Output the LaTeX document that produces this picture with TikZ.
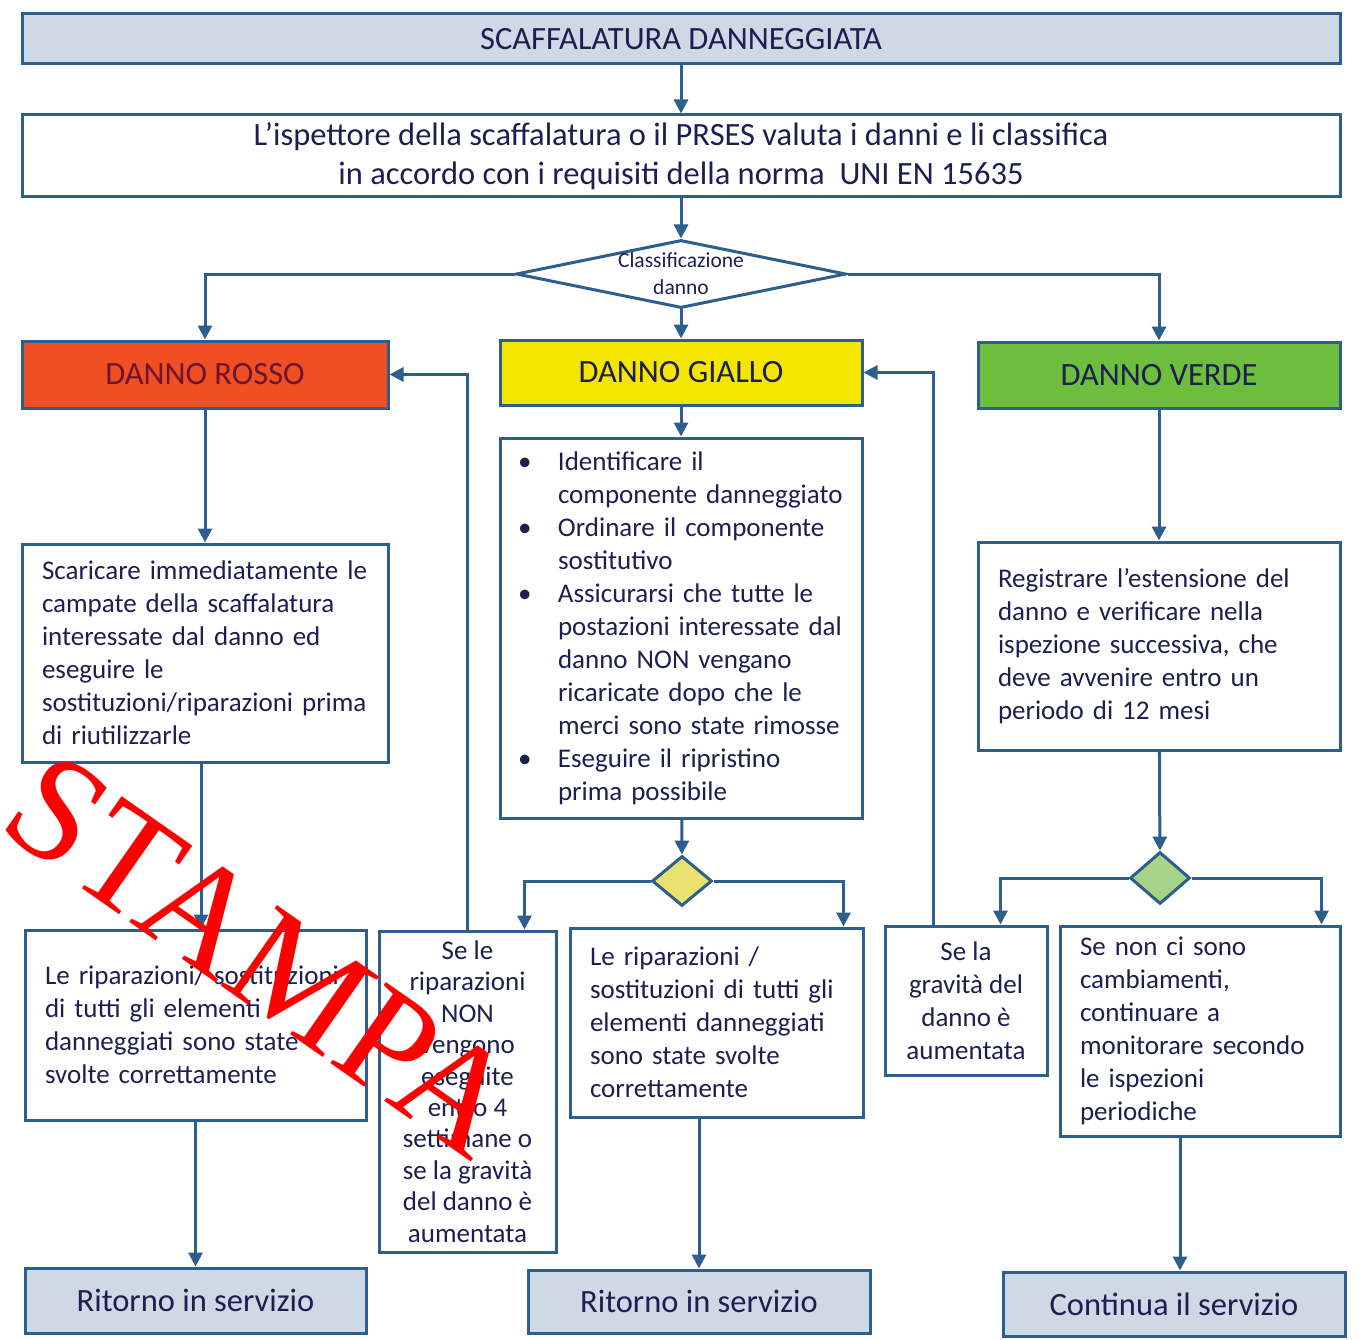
\documentclass[tikz,border=0pt]{standalone}
\usepackage{fontspec}
\setmainfont{Carlito}
\newfontfamily\timbro{Liberation Serif}
\usetikzlibrary{arrows.meta,shapes.geometric}
\definecolor{linea}{RGB}{44,94,142}
\definecolor{inchiostro}{RGB}{30,30,80}
\definecolor{grigio}{RGB}{205,218,230}
\definecolor{rosso}{RGB}{240,78,35}
\definecolor{giallo}{RGB}{245,230,0}
\definecolor{verde}{RGB}{108,190,60}
\definecolor{gialletto}{RGB}{234,226,110}
\definecolor{verdino}{RGB}{165,212,135}
\definecolor{bordeaux}{RGB}{110,20,45}
\newcommand{\punto}[1]{\noindent\hangindent=33pt\hangafter=1\rightskip=-30pt plus 1fil\hyphenpenalty=10000\makebox[33pt][l]{\hspace{-7pt}•}#1\par}
\tikzset{
	box/.style 2 args={draw=linea, line width=3pt, fill=white, text=inchiostro, inner sep=0pt,
		minimum width=#1, minimum height=#2, align=center, font=\fontsize{27}{33}\selectfont},
	sx/.style={inner xsep=20pt, text width=#1-40pt, align=left},
	titoletto/.style={font=\fontsize{32.5}{39}\selectfont},
	rombo/.style 2 args={diamond, draw=linea, line width=3pt, inner sep=0pt, minimum width=#1, minimum height=#2},
	freccia/.style={draw=linea, line width=3pt, -{Triangle[length=14pt,width=14pt]}},
}
\begin{document}
\begin{tikzpicture}[x=1pt,y=-1pt]
\useasboundingbox (0,0) rectangle (1359,1340);
\node[box={1318}{50}, fill=grigio, titoletto] (titolo) at (681,39) {SCAFFALATURA DANNEGGIATA};
\node[box={1318}{82}, titoletto] (ispettore) at (681,156)
	{L’ispettore della scaffalatura o il PRSES valuta i danni e li classifica\\in accordo con i requisiti della norma\ \ UNI EN 15635};
\node[rombo={330}{68}, fill=white] (classe) at (681,274) {};
\node[text=inchiostro, align=center, font=\fontsize{21.5}{27}\selectfont] (classe-t) at (classe) {Classificazione\\danno};

\node[box={366}{67}, fill=rosso, text=bordeaux, titoletto] (rosso) at (205,374.5) {DANNO ROSSO};
\node[box={362}{65}, fill=giallo, titoletto] (giallo) at (681,372.5) {DANNO GIALLO};
\node[box={362}{66}, fill=verde, titoletto] (verde) at (1159,375) {DANNO VERDE};

\node[box={366}{218}, sx=366pt] (scarica) at (205,653) {Scaricare immediatamente le\\campate della scaffalatura\\interessate dal danno ed\\eseguire le\\sostituzioni/riparazioni prima\\di riutilizzarle};
\node[box={362}{380}, inner xsep=25pt, text width=312pt, align=left] (azioni) at (681,628) {%
	\punto{Identificare il\newline componente danneggiato}
	\punto{Ordinare il componente\newline sostitutivo}
	\punto{Assicurarsi che tutte le\newline postazioni interessate dal\newline danno NON vengano\newline ricaricate dopo che le\newline merci sono state rimosse}
	\punto{Eseguire il ripristino\newline prima possibile}};
\node[box={362}{208}, sx=362pt] (registra) at (1159,646) {Registrare l’estensione del\\danno e verificare nella\\ispezione successiva, che\\deve avvenire entro un\\periodo di 12 mesi};

\node[rombo={60}{50}, fill=gialletto] (sceltaG) at (682,881) {};
\node[rombo={60}{52}, fill=verdino] (sceltaV) at (1160,878) {};

\node[box={341}{190}, sx=341pt] (fatteR) at (195.5,1025) {Le riparazioni/ sostituzioni\\di tutti gli elementi\\danneggiati sono state\\svolte correttamente};
\node[box={177}{321}, font=\fontsize{27}{31.4}\selectfont] (nonfatte) at (467.5,1091.5) {Se le\\riparazioni\\NON\\vengono\\eseguite\\entro 4\\settimane o\\se la gravità\\del danno è\\aumentata};
\node[box={293}{189}, sx=293pt] (fatteG) at (716.5,1022.5) {Le riparazioni /\\sostituzioni di tutti gli\\elementi danneggiati\\sono state svolte\\correttamente};
\node[box={162}{149}] (gravita) at (966,1000.5) {Se la\\gravità del\\danno è\\aumentata};
\node[box={280}{210}, sx=280pt] (monitora) at (1200,1031) {Se non ci sono\\cambiamenti,\\continuare a\\monitorare secondo\\le ispezioni\\periodiche};

\node[box={341}{65}, fill=grigio, titoletto] (ritornoR) at (195.5,1300.5) {Ritorno in servizio};
\node[box={342}{63}, fill=grigio, titoletto] (ritornoG) at (699,1301.5) {Ritorno in servizio};
\node[box={342}{64}, fill=grigio, titoletto] (continua) at (1174,1304) {Continua il servizio};

\draw[freccia] (titolo) -- (ispettore);
\draw[freccia] (ispettore) -- (classe);
\draw[freccia] (classe) -- (giallo);
\draw[freccia] (classe.west) -| (rosso.north);
\draw[freccia] (classe.east) -| (verde.north);
\draw[freccia] (rosso) -- (scarica);
\draw[freccia] (giallo) -- (azioni);
\draw[freccia] (verde) -- (registra);
\draw[freccia] ([xshift=-4pt]scarica.south) -- ([xshift=-4pt]scarica.south |- fatteR.north);
\draw[freccia] (fatteR) -- (ritornoR);
\draw[freccia] (azioni) -- (sceltaG);
\draw[freccia] (sceltaG.west) -| ([xshift=-33pt]nonfatte.north east);
\draw[freccia] (sceltaG.east) -| ([xshift=-21pt]fatteG.north east);
\draw[freccia] (fatteG.south -| ritornoG.north) -- (ritornoG.north);
\draw[freccia] (registra) -- (sceltaV);
\draw[freccia] (sceltaV.west) -| ([xshift=-48pt]gravita.north east);
\draw[freccia] (sceltaV.east) -| ([xshift=-20pt]monitora.north east);
\draw[freccia] ([xshift=-20pt]monitora.south) -- ([xshift=-20pt]monitora.south |- continua.north);
\draw[freccia] (nonfatte.north) |- (rosso.east);
\draw[freccia] ([xshift=50pt]gravita.north west) |- (giallo.east);

\node[rotate=-35, text=red, font=\timbro\fontsize{150}{150}\selectfont] (stampa) at (262,955) {STAMPA};
\end{tikzpicture}
\end{document}
